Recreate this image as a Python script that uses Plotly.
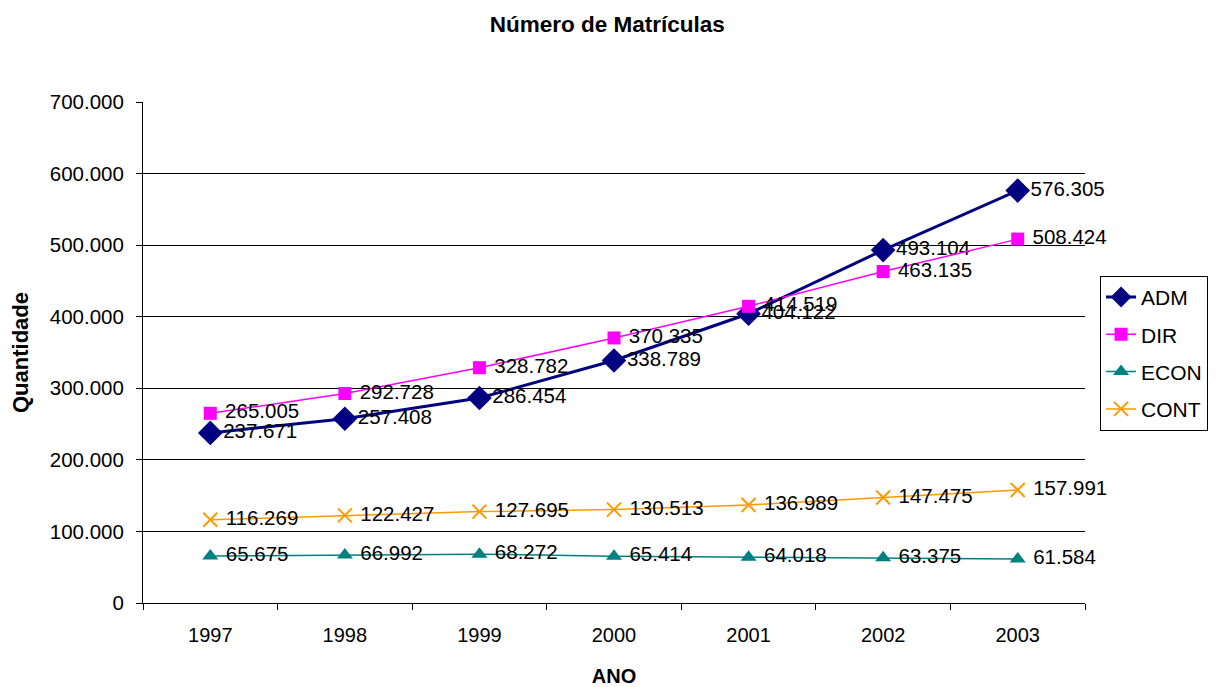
import plotly.graph_objects as go

years = ["1997", "1998", "1999", "2000", "2001", "2002", "2003"]
adm = [237671, 257408, 286454, 338789, 404122, 493104, 576305]
dir_ = [265005, 292728, 328782, 370335, 414519, 463135, 508424]
econ = [65675, 66992, 68272, 65414, 64018, 63375, 61584]
cont = [116269, 122427, 127695, 130513, 136989, 147475, 157991]

def fmt(v):
    return f"{v:,}".replace(",", ".")

series = [
    ("ADM", adm, "#000080", 3, "diamond", 19, None, ""),
    ("DIR", dir_, "#FF00FF", 1.5, "square", 13, None, " "),
    ("ECON", econ, "#008080", 1.5, "triangle-up", 14, None, " "),
    ("CONT", cont, "#FF9900", 1.5, "x-thin-open", 14, 2, " "),
]

FONT = "Arial, Liberation Sans, sans-serif"

fig = go.Figure()
for name, vals, color, lw, sym, ms, mlw, pad in series:
    marker = dict(symbol=sym, size=ms, color=color)
    if mlw:
        marker["line"] = dict(color=color, width=mlw)
    else:
        marker["line"] = dict(width=0)
    fig.add_trace(go.Scatter(
        x=years, y=vals, name=name, legendgroup=name,
        mode="lines+markers+text",
        line=dict(color=color, width=lw), marker=marker,
        text=[pad + fmt(v) for v in vals], textposition="middle right",
        textfont=dict(family=FONT, size=20.5, color="black"),
        cliponaxis=False,
    ))

fig.update_layout(
    width=1218, height=679,
    margin=dict(l=135, r=141, t=94, b=84, autoexpand=False),
    paper_bgcolor="white", plot_bgcolor="white",
    separators=",.",
    font=dict(family=FONT, color="black"),
    title=dict(text="<b>Número de Matrículas</b>", x=0.492, xanchor="center",
               y=0.976, yanchor="middle",
               font=dict(size=22.5, family=FONT)),
    xaxis=dict(
        type="category", range=[-0.5, 6.5], tickson="boundaries",
        ticks="outside", ticklen=6, tickcolor="black", showline=True,
        linecolor="black", linewidth=1, showgrid=False,
        ticklabelstandoff=14, automargin=False,
        tickfont=dict(size=20),
        title=dict(text="<b>ANO</b>", font=dict(size=20), standoff=24),
    ),
    yaxis=dict(
        range=[0, 700000], dtick=100000, tickformat=",d",
        ticks="outside", ticklen=6, tickcolor="black", showline=True,
        linecolor="black", linewidth=1, showgrid=True, gridcolor="black",
        gridwidth=1, zeroline=False, ticklabelstandoff=8, automargin=False,
        tickfont=dict(size=20.5),
        title=dict(text="<b>Quantidade</b>", font=dict(size=22), standoff=16),
    ),
    legend=dict(
        x=1.016, xanchor="left", y=0.653, yanchor="top",
        bordercolor="black", borderwidth=1, bgcolor="white",
        font=dict(size=21), tracegroupgap=7, itemsizing="trace",
    ),
)

fig.write_html("out.html")
